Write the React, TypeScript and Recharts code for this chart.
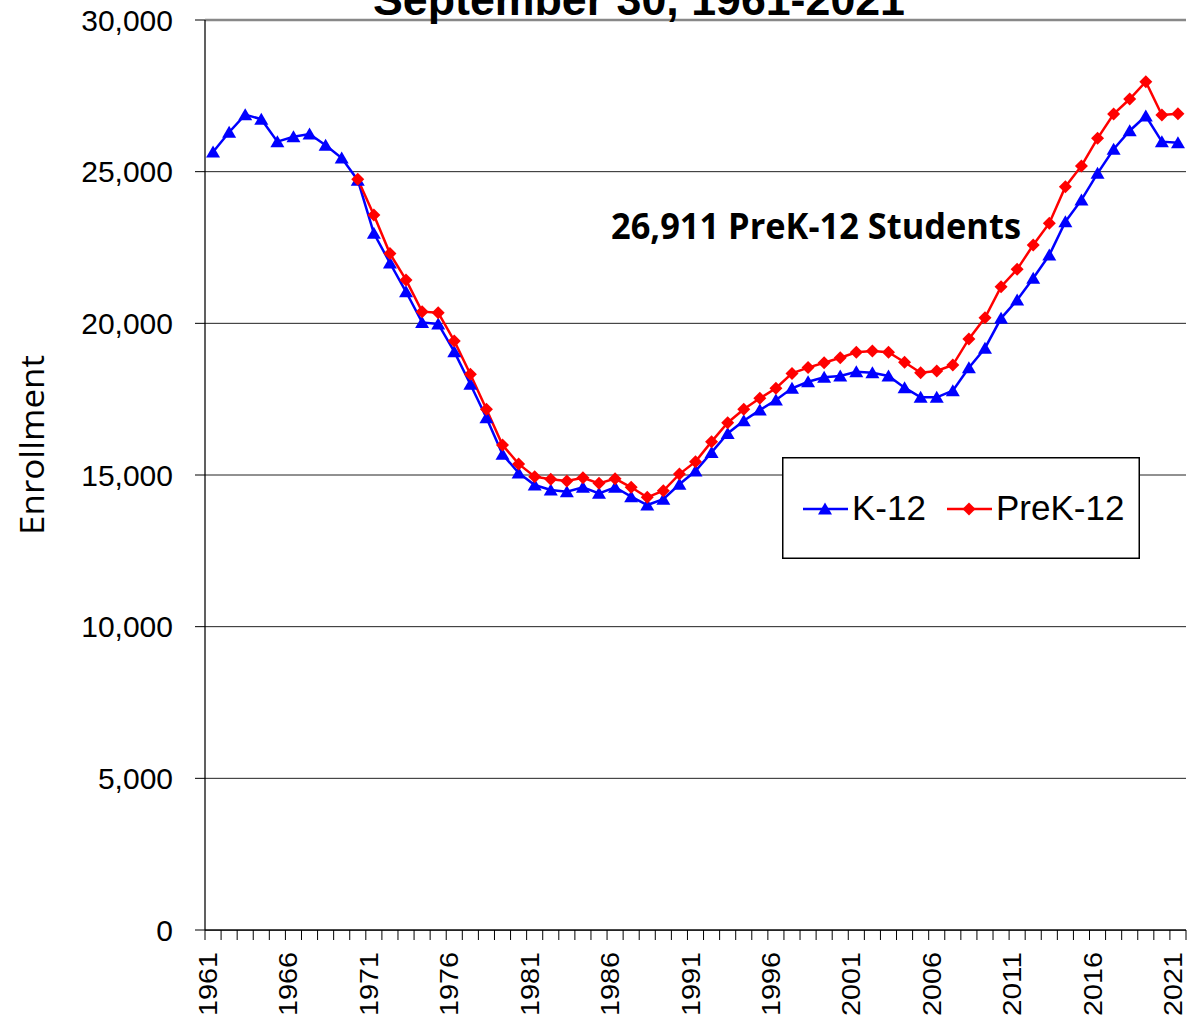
import { LineChart, Line, XAxis, YAxis, CartesianGrid, Legend, ReferenceLine } from 'recharts'

// enrollment on September 30 of each year
const YEARS = [
  1961, 1962, 1963, 1964, 1965, 1966, 1967, 1968, 1969, 1970,
  1971, 1972, 1973, 1974, 1975, 1976, 1977, 1978, 1979, 1980,
  1981, 1982, 1983, 1984, 1985, 1986, 1987, 1988, 1989, 1990,
  1991, 1992, 1993, 1994, 1995, 1996, 1997, 1998, 1999, 2000,
  2001, 2002, 2003, 2004, 2005, 2006, 2007, 2008, 2009, 2010,
  2011, 2012, 2013, 2014, 2015, 2016, 2017, 2018, 2019, 2020,
  2021,
]

const K12 = [
  25650, 26300, 26880, 26730, 25990, 26150, 26240, 25870, 25450, 24720,
  22970, 21990, 21040, 20030, 19980, 19065, 17990, 16890, 15680, 15070,
  14670, 14505, 14450, 14595, 14395, 14595, 14285, 14010, 14200, 14695,
  15130, 15745, 16370, 16790, 17140, 17470, 17860, 18075, 18220, 18265,
  18405, 18370, 18265, 17880, 17560, 17560, 17780, 18535, 19180, 20165,
  20770, 21485, 22250, 23350, 24070, 24945, 25740, 26350, 26835, 25990,
  25955,
]

const PREK12 = [
  null, null, null, null, null, null, null, null, null, 24750,
  23570, 22300, 21430, 20385, 20350, 19420, 18320, 17170, 15990, 15365,
  14945, 14860, 14800, 14910, 14725, 14880, 14595, 14265, 14480, 15030,
  15440, 16100, 16725, 17165, 17530, 17860, 18350, 18540, 18700, 18865,
  19045, 19090, 19045, 18715, 18370, 18430, 18625, 19485, 20185, 21210,
  21780, 22580, 23300, 24505, 25190, 26100, 26900, 27395, 27965, 26870,
  26911,
]

const Y_TICKS = [0, 5000, 10000, 15000, 20000, 25000, 30000]

const data = YEARS.map((year, i) => ({ year, k12: K12[i], prek12: PREK12[i] }))

const W = 1200
const H = 1023
const MARGIN = { top: 20, right: 14, bottom: 0, left: 0 }
const Y_AXIS_W = 205
const PLOT_W = W - MARGIN.left - MARGIN.right - Y_AXIS_W
const FONT = '"Liberation Sans", Arial, sans-serif'

function YearTick(props: any) {
  const { x, y, payload, index } = props
  const bw = PLOT_W / YEARS.length
  return (
    <g>
      <line x1={x - bw / 2} y1={y} x2={x - bw / 2} y2={y + 10} stroke="#000" />
      {index === YEARS.length - 1 && (
        <line x1={x + bw / 2} y1={y} x2={x + bw / 2} y2={y + 10} stroke="#000" />
      )}
      {index % 5 === 0 && (
        <text
          transform={`translate(${x + 4},${y + 22}) rotate(-90)`}
          textAnchor="end"
          fontSize={26}
          fontFamily={FONT}
          fill="#000"
          textLength={64}
          lengthAdjust="spacingAndGlyphs"
        >
          {payload.value}
        </text>
      )}
    </g>
  )
}

function triangle(cx: number, cy: number, color: string, key?: string) {
  return <polygon key={key} points={`${cx},${cy - 6.5} ${cx + 7},${cy + 5.5} ${cx - 7},${cy + 5.5}`} fill={color} />
}

function diamond(cx: number, cy: number, color: string, key?: string) {
  return <polygon key={key} points={`${cx},${cy - 6.5} ${cx + 6.5},${cy} ${cx},${cy + 6.5} ${cx - 6.5},${cy}`} fill={color} />
}

const TriangleDot = (p: any) =>
  p.cy == null ? <g key={`t-${p.index}`} /> : triangle(p.cx, p.cy, '#0000FF', `t-${p.index}`)

const DiamondDot = (p: any) =>
  p.cy == null ? <g key={`d-${p.index}`} /> : diamond(p.cx, p.cy, '#FF0000', `d-${p.index}`)

function LegendBox() {
  return (
    <svg width={358} height={102} style={{ display: 'block' }}>
      <rect x={0.75} y={0.75} width={356.5} height={100.5} fill="#fff" stroke="#000" strokeWidth={1.5} />
      <line x1={21} y1={52} x2={66} y2={52} stroke="#0000FF" strokeWidth={2.5} />
      {triangle(43, 52, '#0000FF')}
      <text x={70} y={63} fontSize={35} fontFamily={FONT} fill="#000">K-12</text>
      <line x1={165} y1={52} x2={210} y2={52} stroke="#FF0000" strokeWidth={2.5} />
      {diamond(187, 52, '#FF0000')}
      <text x={214} y={63} fontSize={35} fontFamily={FONT} fill="#000">PreK-12</text>
    </svg>
  )
}

export default function App() {
  return (
    <div
      style={{
        position: 'absolute',
        left: 0,
        top: 0,
        width: 1187,
        height: H,
        overflow: 'hidden',
        background: '#fff',
      }}
    >
      <LineChart width={W} height={H} data={data} margin={MARGIN}>
        <CartesianGrid vertical={false} stroke="#222" strokeWidth={1} />
        <XAxis
          dataKey="year"
          scale="band"
          interval={0}
          height={H - 930}
          tickLine={false}
          tickSize={0}
          tickMargin={0}
          axisLine={{ stroke: '#000', strokeWidth: 1.25 }}
          tick={<YearTick />}
        />
        <YAxis
          width={Y_AXIS_W}
          domain={[0, 30000]}
          ticks={Y_TICKS}
          interval={0}
          tickSize={10}
          tickMargin={22}
          tickFormatter={(v: number) => v.toLocaleString('en-US')}
          tick={{ fontSize: 30, fill: '#000', fontFamily: FONT }}
          axisLine={{ stroke: '#000', strokeWidth: 1.25 }}
          tickLine={{ stroke: '#000' }}
        />
        <YAxis
          yAxisId="frame"
          orientation="right"
          width={0}
          tick={false}
          tickLine={false}
          axisLine={{ stroke: '#888', strokeWidth: 2 }}
        />
        <ReferenceLine y={30000} stroke="#888" strokeWidth={2.5} />
        <Legend
          verticalAlign="middle"
          align="center"
          layout="horizontal"
          content={() => <LegendBox />}
          wrapperStyle={{ left: 782, top: 457, width: 358, height: 102 }}
        />
        <Line
          dataKey="k12"
          name="K-12"
          stroke="#0000FF"
          strokeWidth={2.5}
          dot={TriangleDot}
          activeDot={false}
          isAnimationActive={false}
        />
        <Line
          dataKey="prek12"
          name="PreK-12"
          stroke="#FF0000"
          strokeWidth={2.5}
          dot={DiamondDot}
          activeDot={false}
          isAnimationActive={false}
        />
      </LineChart>
      <svg
        width={1187}
        height={H}
        style={{ position: 'absolute', left: 0, top: 0, pointerEvents: 'none' }}
      >
        <text
          x={639}
          y={15}
          textAnchor="middle"
          fontSize={44}
          fontWeight="bold"
          fontFamily={FONT}
          fill="#000"
          textLength={532}
          lengthAdjust="spacingAndGlyphs"
        >
          September 30, 1961-2021
        </text>
        <text
          x={611}
          y={239}
          fontSize={35}
          fontWeight="bold"
          fontFamily='"Open Sans", sans-serif'
          fill="#000"
          textLength={410}
          lengthAdjust="spacingAndGlyphs"
        >
          26,911 PreK-12 Students
        </text>
        <text
          transform="translate(44,445) rotate(-90)"
          textAnchor="middle"
          fontSize={32}
          fontFamily='"Open Sans", sans-serif'
          fill="#000"
          textLength={180}
          lengthAdjust="spacingAndGlyphs"
        >
          Enrollment
        </text>
      </svg>
    </div>
  )
}
